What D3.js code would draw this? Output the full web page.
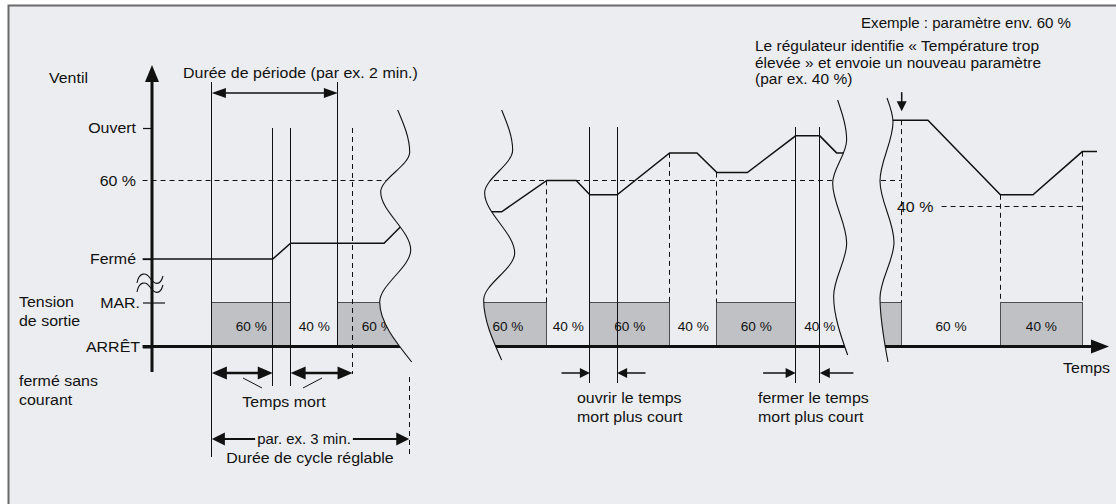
<!DOCTYPE html>
<html>
<head>
<meta charset="utf-8">
<script src="https://cdn.jsdelivr.net/npm/d3@7/dist/d3.min.js"></script>
<style>
  html, body { margin: 0; padding: 0; background: #ffffff; }
  svg { display: block; }
  text { font-family: "Liberation Sans", Arial, sans-serif; fill: #111111; }
</style>
</head>
<body>
<svg id="chart" width="1116" height="504"></svg>
<script>
// Valve axis: named positions and their opening in %
const valveTicks = ["Ouvert", "60 %", "Fermé"];
const valveTickValues = [100, 60, 0];
// Output voltage axis
const voltageTicks = ["MAR.", "ARRÊT"];
const voltageTickValues = [1, 0];

// Valve opening (%) over time (s) in the three excerpts
const valveLeft   = [[-9, 0], [115, 0], [132, 12], [221, 12], [236, 24], [250, 35]];
const valveMiddle = [[310, 36], [333, 36], [376, 60], [404, 60], [417, 49], [443, 49],
                     [493, 81], [519, 81], [538, 66], [567, 66], [613, 94], [636, 94],
                     [652, 81], [680, 81]];
const valveRight  = [[680, 106], [739, 106], [808, 49], [839, 49], [886, 82], [900, 82]];

// PWM output: [start s, end s, on (1) / off (0), duty label]
const pulsesLeft   = [[57, 132, 1, "60 %"], [132, 177, 0, "40 %"], [177, 252, 1, "60 %"]];
const pulsesMiddle = [[302, 376, 1, "60 %"], [376, 417, 0, "40 %"], [417, 493, 1, "60 %"],
                      [493, 538, 0, "40 %"], [538, 613, 1, "60 %"], [613, 659, 0, "40 %"]];
const pulsesRight  = [[639, 714, 1, ""], [714, 808, 0, "60 %"], [808, 886, 1, "40 %"]];

// Time marks (s)
const periodMarks = [57, 177];          // period, e.g. 2 min
const deadTimeMarks = [115, 132];       // valve starts moving after the dead time
const deadTimeEnd = 191;
const cycleEnd = 245;                   // adjustable cycle, e.g. 3 min
const shortDeadMarks = [417, 443, 613, 636];
const middleSettleMarks = [376, 493, 538];
const rightSettleMarks = [714, 808, 886];
const newSetpoint = 40;
const newSetpointSpan = [752, 886];

// Texts
const noteTop = "Exemple : paramètre env. 60 %";
const noteSetpoint = ["Le régulateur identifie « Température trop",
                      "élevée » et envoie un nouveau paramètre",
                      "(par ex. 40 %)"];
const notePeriod = "Durée de période (par ex. 2 min.)";
const noteDead = "Temps mort";
const noteCycle = ["par. ex. 3 min.", "Durée de cycle réglable"];
const noteOpen = ["ouvrir le temps", "mort plus court"];
const noteClose = ["fermer le temps", "mort plus court"];
const axisValveTitle = "Ventil";
const axisVoltTitle = ["Tension", "de sortie"];
const noteRest = ["fermé sans", "courant"];
const axisTimeTitle = "Temps";

// ---------------------------------------------------------------
const W = 1116, H = 504;
const INK = "#111111", EDGE = "#4d4d4d", FILL = "#c0c1c5", BG = "#ecedf0";
const svg = d3.select("#chart");

const x = d3.scaleLinear().domain([0, 900]).range([152, 1097]);
const yValve = d3.scaleLinear().domain([0, 100]).range([259, 128]);
const yVolt = d3.scaleLinear().domain([0, 1]).range([346.5, 302.5]);
const crisp = v => Math.round(v - 0.5) + 0.5;

// frame
svg.append("rect").attr("x", 9).attr("y", 6).attr("width", W - 9).attr("height", H - 6).attr("fill", BG);
svg.append("path").attr("d", `M8.5,${H}V5.5H${W}`).attr("fill", "none")
  .attr("stroke", "#6a6a6a").attr("stroke-width", 2);

function label(g, str, px, py, anchor = "start", size = 14.5, sx = 1.1) {
  return g.append("text")
    .attr("transform", `translate(${px},${py}) scale(${sx},1)`)
    .attr("text-anchor", anchor)
    .attr("font-size", size)
    .text(str);
}

function valueAt(series, t) {
  for (let i = 0; i < series.length - 1; i++) {
    const [t0, v0] = series[i], [t1, v1] = series[i + 1];
    if (t >= t0 && t <= t1) return t1 === t0 ? v0 : v0 + (v1 - v0) * (t - t0) / (t1 - t0);
  }
  return series[series.length - 1][1];
}

// wavy break marks between the excerpts
const breakMarks = {
  L1: { t: 234, shape: [[0, 110], [12, 152], [-17, 192], [13, 250], [-18, 302], [14, 362]] },
  L2: { t: 333, shape: [[0, 110], [11, 150], [-17, 193], [13, 253], [-18, 300], [0, 360]] },
  R2: { t: 653, shape: [[0, 100], [9, 140], [-5, 183], [9, 243], [-4, 296], [10, 355]] },
  L3: { t: 700, shape: [[0, 98], [6, 122], [-7, 181], [7, 242], [-7, 298], [1, 362]] }
};
const breakLine = d3.line().curve(d3.curveMonotoneY);
const breakPts = b => b.shape.map(([dx, py]) => [x(b.t) + dx, py]);

const defs = svg.append("defs");
function clipSide(id, b, side) {
  const p = breakPts(b), far = side === "left" ? -20 : W + 20;
  defs.append("clipPath").attr("id", id).append("path")
    .attr("d", breakLine(p) + `L${far},${p[p.length - 1][1]}L${far},${p[0][1]}Z`);
}
clipSide("keepLeftL1", breakMarks.L1, "left");
clipSide("keepRightL2", breakMarks.L2, "right");
clipSide("keepLeftR2", breakMarks.R2, "left");
clipSide("keepRightL3", breakMarks.L3, "right");

const valvePath = d3.line().x(d => x(d[0])).y(d => yValve(d[1]));

function drawPanel(g, valve, pulses, span, dashSpan) {
  g.selectAll("rect.pulse").data(pulses.filter(p => p[2] === 1)).join("rect")
    .attr("class", "pulse")
    .attr("x", p => crisp(x(p[0]))).attr("width", p => crisp(x(p[1])) - crisp(x(p[0])))
    .attr("y", yVolt(1)).attr("height", yVolt(0) - yVolt(1))
    .attr("fill", FILL).attr("stroke", EDGE).attr("stroke-width", 1);
  pulses.filter(p => p[3]).forEach(p =>
    label(g, p[3], (x(p[0]) + x(p[1])) / 2, 331, "middle", 13, 1.05));
  g.append("line")
    .attr("x1", x(dashSpan[0])).attr("x2", x(dashSpan[1]))
    .attr("y1", crisp(yValve(60))).attr("y2", crisp(yValve(60)))
    .attr("stroke", INK).attr("stroke-width", 1).attr("stroke-dasharray", "5,4");
  g.append("path").datum(valve).attr("d", valvePath)
    .attr("fill", "none").attr("stroke", INK).attr("stroke-width", 1.5);
  g.append("line")
    .attr("x1", x(span[0])).attr("x2", x(span[1]))
    .attr("y1", yVolt(0)).attr("y2", yVolt(0))
    .attr("stroke", INK).attr("stroke-width", 3);
}

const gL = svg.append("g").attr("clip-path", "url(#keepLeftL1)");
drawPanel(gL, valveLeft, pulsesLeft, [-9, 260], [-9, 260]);
const gM = svg.append("g").attr("clip-path", "url(#keepRightL2)")
  .append("g").attr("clip-path", "url(#keepLeftR2)");
drawPanel(gM, valveMiddle, pulsesMiddle, [300, 700], [300, 700]);
const gR = svg.append("g").attr("clip-path", "url(#keepRightL3)");
drawPanel(gR, valveRight, pulsesRight, [660, 900], [660, rightSettleMarks[0]]);

// new set point (40 %)
svg.append("line")
  .attr("x1", x(newSetpointSpan[0])).attr("x2", x(newSetpointSpan[1]))
  .attr("y1", crisp(yValve(newSetpoint))).attr("y2", crisp(yValve(newSetpoint)))
  .attr("stroke", INK).attr("stroke-width", 1).attr("stroke-dasharray", "5,4");
label(svg, `${newSetpoint} %`, 897, yValve(newSetpoint) + 5);

// break marks
Object.values(breakMarks).forEach(b =>
  svg.append("path").attr("d", breakLine(breakPts(b)))
    .attr("fill", "none").attr("stroke", INK).attr("stroke-width", 1.1));

// vertical time marks
function vline(t, y1, y2, dashed) {
  svg.append("line").attr("x1", crisp(x(t))).attr("x2", crisp(x(t)))
    .attr("y1", y1).attr("y2", y2)
    .attr("stroke", INK).attr("stroke-width", 1)
    .attr("stroke-dasharray", dashed ? "5,4" : null);
}
vline(periodMarks[0], 82, 457, false);
vline(periodMarks[1], 82, yVolt(0), false);
deadTimeMarks.forEach(t => vline(t, yValve(100), 386, false));
vline(deadTimeEnd, yValve(100), 374, true);
vline(cycleEnd, 377, 457, true);
shortDeadMarks.forEach(t => vline(t, 127, 383, false));
middleSettleMarks.forEach(t => vline(t, yValve(valueAt(valveMiddle, t)), yVolt(1), true));
rightSettleMarks.forEach(t => vline(t, yValve(valueAt(valveRight, t)), yVolt(1), true));

// arrows
function headH(tipX, py, dir, len, half) {
  svg.append("path")
    .attr("d", `M${tipX},${py}L${tipX - dir * len},${py - half}L${tipX - dir * len},${py + half}Z`)
    .attr("fill", INK);
}
function headV(px, tipY, dir, len, half) {
  svg.append("path")
    .attr("d", `M${px},${tipY}L${px - half},${tipY - dir * len}L${px + half},${tipY - dir * len}Z`)
    .attr("fill", INK);
}
function dimension(t1, t2, py, w, len, half) {
  const a = x(t1), b = x(t2);
  svg.append("line").attr("x1", a + len / 2).attr("x2", b - len / 2)
    .attr("y1", py).attr("y2", py).attr("stroke", INK).attr("stroke-width", w);
  headH(a, py, -1, len, half);
  headH(b, py, 1, len, half);
}
function pointer(tFrom, tTip, py) {
  const a = x(tFrom), b = x(tTip), dir = b > a ? 1 : -1;
  svg.append("line").attr("x1", a).attr("x2", b - dir * 5)
    .attr("y1", py).attr("y2", py).attr("stroke", INK).attr("stroke-width", 1.5);
  headH(b, py, dir, 10, 5);
}

dimension(periodMarks[0], periodMarks[1], 93, 1.5, 14, 5);
dimension(periodMarks[0], deadTimeMarks[0], 373, 2.5, 15, 6.5);
dimension(deadTimeMarks[1], deadTimeEnd, 373, 2.5, 15, 6.5);
dimension(periodMarks[0], cycleEnd, 439, 2, 13, 6.5);

pointer(390, shortDeadMarks[0], 373);
pointer(470, shortDeadMarks[1], 373);
pointer(582, shortDeadMarks[2], 373);
pointer(668, shortDeadMarks[3], 373);

// set point change marker
const tNew = rightSettleMarks[0];
const yNew = yValve(valueAt(valveRight, tNew));
svg.append("line").attr("x1", x(tNew)).attr("x2", x(tNew))
  .attr("y1", yNew - 28).attr("y2", yNew - 15).attr("stroke", INK).attr("stroke-width", 1.5);
headV(x(tNew), yNew - 9, 1, 10, 5);

// dead time leaders
svg.append("path").attr("d", "M243,378L262,388M303,388L322,378")
  .attr("stroke", INK).attr("stroke-width", 1).attr("fill", "none");

// valve axis
const gVA = svg.append("g").attr("transform", `translate(${x(0)},0)`)
  .call(d3.axisLeft(yValve).tickValues(valveTickValues)
    .tickFormat((d, i) => valveTicks[i]).tickSize(9).tickPadding(7));
gVA.select(".domain").remove();
gVA.selectAll(".tick line").attr("stroke", INK).attr("stroke-width", 1.2)
  .filter(d => d === 60).remove();

// voltage axis
const gVT = svg.append("g").attr("transform", `translate(${x(0)},0)`)
  .call(d3.axisLeft(yVolt).tickValues(voltageTickValues)
    .tickFormat((d, i) => voltageTicks[i]).tickSize(9).tickPadding(3));
gVT.select(".domain").remove();
gVT.selectAll(".tick line").attr("stroke", INK)
  .attr("stroke-width", d => d === 0 ? 3 : 1.2)
  .attr("x1", d => d === 1 ? 13 : 0);

[gVA, gVT].forEach(g => g.selectAll(".tick text")
  .attr("font-size", 14.5)
  .attr("transform", "scale(1.1,1)")
  .attr("x", function () { return +this.getAttribute("x") / 1.1; }));

// vertical axis line with arrow
svg.append("line").attr("x1", x(0)).attr("x2", x(0)).attr("y1", 78).attr("y2", 372)
  .attr("stroke", INK).attr("stroke-width", 3);
headV(x(0), 65, -1, 17, 7);
// time axis arrow
headH(x(900) + 12, yVolt(0), 1, 18, 7);

// axis break symbol
svg.append("path")
  .attr("d", "M137,283C139,272 146,272 150,278S160,287 163,276M137,292C139,281 146,281 150,287S160,296 163,285")
  .attr("fill", "none").attr("stroke", INK).attr("stroke-width", 1.1);

// texts
label(svg, axisValveTitle, 49, 83);
label(svg, notePeriod, 183, 78);
label(svg, axisVoltTitle[0], 19, 307);
label(svg, axisVoltTitle[1], 19, 326);
label(svg, noteRest[0], 19, 386);
label(svg, noteRest[1], 19, 405);
label(svg, noteDead, 284, 407, "middle");

const cyc = label(svg, noteCycle[0], 304, 444, "middle", 14.5, 1.03);
const cb = cyc.node().getBoundingClientRect();
svg.insert("rect", () => cyc.node())
  .attr("x", cb.left - 2).attr("y", cb.top).attr("width", cb.width + 4).attr("height", cb.height)
  .attr("fill", BG);
label(svg, noteCycle[1], 310, 463, "middle");

label(svg, noteOpen[0], 577, 403);
label(svg, noteOpen[1], 577, 422);
label(svg, noteClose[0], 758, 403);
label(svg, noteClose[1], 758, 422);

label(svg, noteTop, 1071, 28, "end", 14.5, 1.04);
noteSetpoint.forEach((s, i) => label(svg, s, 755, 51 + i * 16.5, "start", 14.5, 1.07));
label(svg, axisTimeTitle, 1110, 373, "end");
</script>
</body>
</html>
